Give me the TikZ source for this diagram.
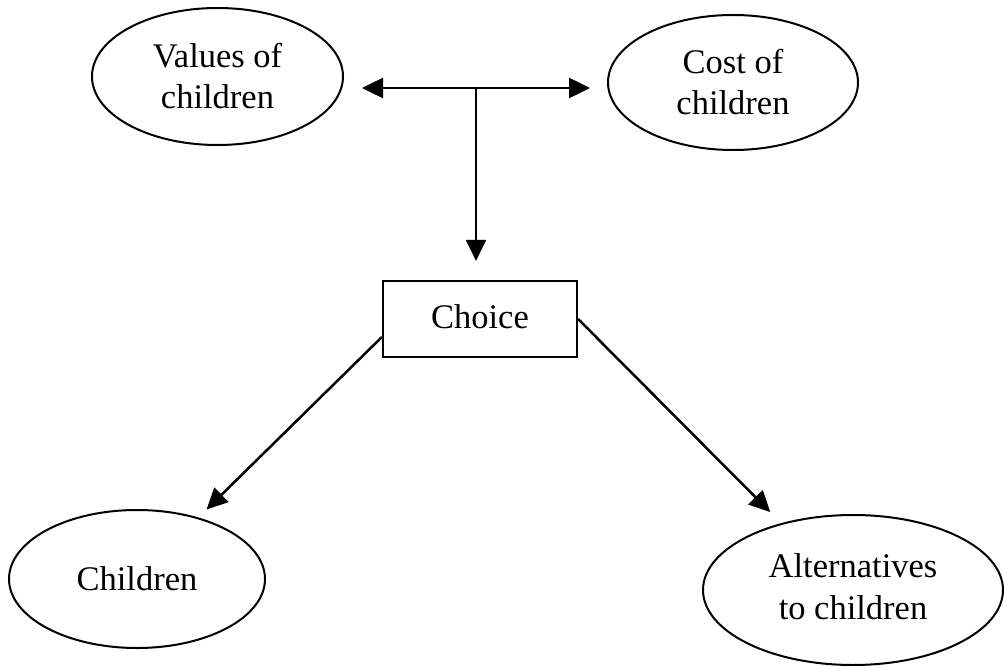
\documentclass[tikz,border=0pt]{standalone}
\usepackage{fontspec}
\setmainfont{Liberation Serif}
\usetikzlibrary{arrows.meta,shapes.geometric}
\begin{document}
\begin{tikzpicture}[x=1pt,y=-1pt,
  oval/.style={ellipse,draw,line width=2pt,inner sep=0pt,align=center,
    font=\fontsize{34.5}{41}\selectfont},
  boxnode/.style={rectangle,draw,line width=2.2pt,inner sep=0pt,
    font=\fontsize{34.5}{41}\selectfont},
  conn/.style={line width=2.5pt,-{Triangle[length=21pt,width=20pt]}},
  dconn/.style={line width=2.5pt,{Triangle[length=21pt,width=20pt]}-{Triangle[length=21pt,width=20pt]}}
  ]
\useasboundingbox (0,0) rectangle (1004,666);
\fill[white] (0,0) rectangle (1004,666);

\node[oval,minimum width=251pt,minimum height=137pt] (val) at (217.5,76.5) {Values of\\children};
\node[oval,minimum width=250pt,minimum height=135pt] (cost) at (733,82.5) {Cost of\\children};
\node[boxnode,minimum width=194pt,minimum height=76pt] (choice) at (480,319) {\raisebox{5pt}{Choice}};
\node[oval,minimum width=256pt,minimum height=138pt] (kids) at (137,579) {Children};
\node[oval,minimum width=300pt,minimum height=150pt] (alt) at (853,590) {\raisebox{-6pt}{\begin{tabular}{@{}c@{}}Alternatives\\[1pt]to children\end{tabular}}};

\coordinate (jl) at (362,88);
\coordinate (jr) at (590,88);
\coordinate (jm) at (476,88);

\draw[dconn] (jl) -- (jr);
\draw[conn,shorten >=19pt] (jm) -- (jm |- choice.north);
\draw[conn] ([yshift=-18pt]choice.west) -- ([shift={(8pt,8pt)}]kids.45);
\draw[conn] (choice.east) -- ([shift={(-11pt,11pt)}]alt.137);
\end{tikzpicture}
\end{document}
